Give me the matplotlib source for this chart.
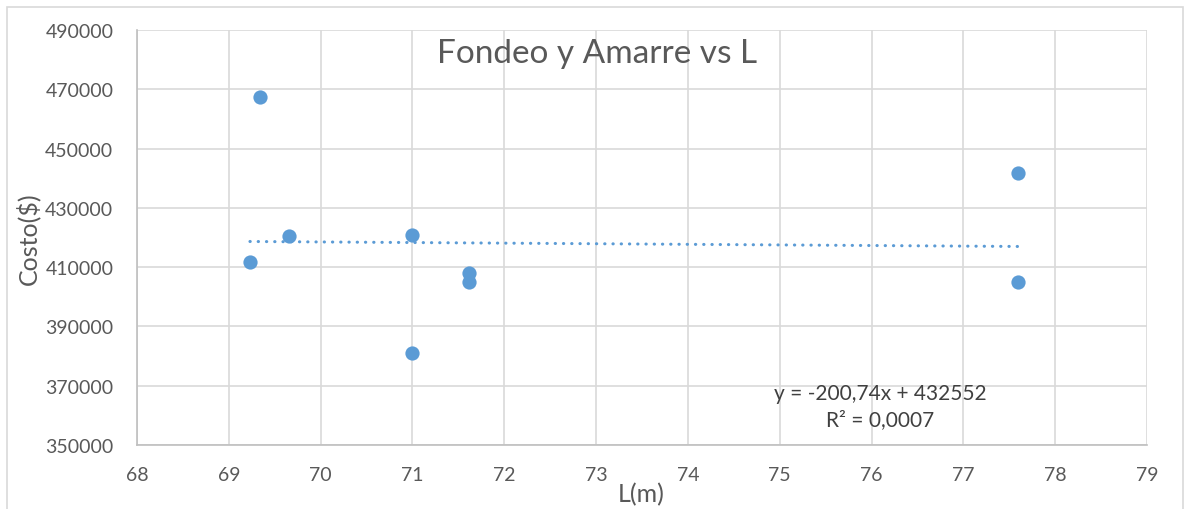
import matplotlib.pyplot as plt
from matplotlib.patches import Rectangle

# eslora (m) y costo de fondeo y amarre ($)
L = [69.23, 69.34, 69.65, 71.0, 71.0, 71.62, 71.62, 77.6, 77.6]
costo = [411800, 467400, 420600, 420700, 381100, 408100, 405100, 441800, 405100]

# linea de tendencia de Excel
pendiente = -200.74
ordenada = 432552
r2 = 0.0007

plt.rcParams['font.family'] = ['Lato', 'DejaVu Sans']

W, H = 1188, 510
fig = plt.figure(figsize=(W / 100, H / 100), dpi=100)
ax = fig.add_axes([137 / W, 1 - 446 / H, 1010 / W, 415 / H])

ax.scatter(L, costo, s=105, color='#5B9BD5', zorder=3, linewidths=0)

x_tr = [min(L), max(L)]
y_tr = [pendiente * x + ordenada for x in x_tr]
ax.plot(x_tr, y_tr, color='#5B9BD5', lw=2.2, linestyle=(0, (0.1, 2.6)),
        dash_capstyle='round', zorder=2)

ax.set_xlim(68, 79)
ax.set_ylim(350000, 490000)
ax.set_xticks(range(68, 80))
ax.set_yticks(range(350000, 490001, 20000))
ax.grid(True, color='#D9D9D9', lw=1.2)
ax.set_axisbelow(True)
ax.tick_params(length=0, labelsize=14, labelcolor='#595959')
ax.tick_params(axis='x', pad=15)
ax.tick_params(axis='y', pad=17)
for s in ['top', 'right']:
    ax.spines[s].set_visible(False)
for s in ['left', 'bottom']:
    ax.spines[s].set_color('#BFBFBF')
    ax.spines[s].set_linewidth(1.2)

fig.text(641 / W, 1 - 495 / H, 'L(m)', ha='center', va='center',
         fontsize=18, color='#595959')
fig.text(28 / W, 1 - 239 / H, 'Costo($)', ha='center', va='center',
         rotation=90, fontsize=18, color='#595959')

fig.text(597 / W, 1 - 54 / H, 'Fondeo y Amarre vs L', ha='center',
         va='center', fontsize=24, color='#595959')

eq = 'y = {}x + {}'.format(str(pendiente).replace('.', ','), ordenada)
ax.text(0.7356, 0.094, eq + '\nR² = ' + str(r2).replace('.', ','),
        transform=ax.transAxes, ha='center', va='center', fontsize=15,
        color='#404040', linespacing=1.35)

fig.patches.append(Rectangle((7 / W, -0.1), 1176 / W, 1.1 - 8 / H,
                             transform=fig.transFigure, fill=False,
                             edgecolor='#D9D9D9', lw=1.2))

fig.savefig('out.png', dpi=100)
